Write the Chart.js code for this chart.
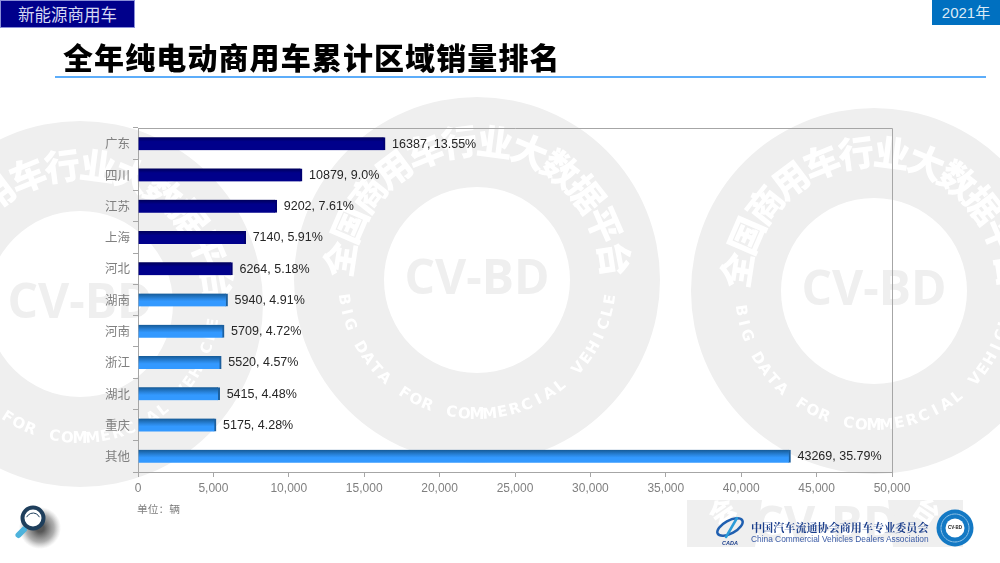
<!DOCTYPE html>
<html>
<head>
<meta charset="utf-8">
<title>全年纯电动商用车累计区域销量排名</title>
<script src="https://cdn.jsdelivr.net/npm/chart.js@4/dist/chart.umd.min.js"></script>
<style>
  html, body { margin: 0; padding: 0; background: #fff; overflow: hidden; }
  #wrap { position: relative; width: 1000px; height: 563px; font-family: "Noto Sans CJK SC", sans-serif; }
  #chart { position: absolute; left: 0; top: 0; }
  .abs { position: absolute; white-space: nowrap; }
  #tag { left: 0; top: 0; width: 135px; height: 28px; line-height: 28px; background: #00008b; color: #d5d8f2; font-size: 16.5px; text-align: center; box-shadow: inset 0 0 0 1px #8a8fd8; }
  #year { left: 932px; top: 0; width: 68px; height: 25px; line-height: 26px; background: #0070c0; color: #dbeaf6; font-family: "Liberation Sans", "Noto Sans CJK SC", sans-serif; font-size: 15px; text-align: center; }
  #title { left: 63px; top: 35px; font-size: 30px; line-height: 42px; font-weight: 900; color: #000; letter-spacing: 1.1px; }
  #rule { left: 55px; top: 76px; width: 931px; height: 2px; background: #5cadfa; }
  #unit { left: 137px; top: 501px; font-size: 10.75px; line-height: 15px; color: #808080; }
  #assoc { left: 751px; top: 520px; font-family: "Noto Serif CJK SC", "Noto Sans CJK SC", serif; font-weight: 700; font-size: 11.1px; line-height: 15px; color: #1c3f8c; }
  #assocEn { left: 751px; top: 534px; font-family: "Liberation Sans", sans-serif; font-size: 8.35px; line-height: 11px; color: #3a5ba5; }
</style>
</head>
<body>
<div id="wrap">
  <canvas id="chart" width="1000" height="563"></canvas>
  <div class="abs" id="tag">新能源商用车</div>
  <div class="abs" id="year">2021年</div>
  <div class="abs" id="title">全年纯电动商用车累计区域销量排名</div>
  <div class="abs" id="rule"></div>
  <div class="abs" id="unit">单位：辆</div>
  <div class="abs" id="assoc">中国汽车流通协会商用车专业委员会</div>
  <div class="abs" id="assocEn">China Commercial Vehicles Dealers Association</div>
</div>
<script>
const categories = ["广东", "四川", "江苏", "上海", "河北", "湖南", "河南", "浙江", "湖北", "重庆", "其他"]
const sales = [16387, 10879, 9202, 7140, 6264, 5940, 5709, 5520, 5415, 5175, 43269]
const shares = ["13.55%", "9.0%", "7.61%", "5.91%", "5.18%", "4.91%", "4.72%", "4.57%", "4.48%", "4.28%", "35.79%"]
const xTicks = [0, 5000, 10000, 15000, 20000, 25000, 30000, 35000, 40000, 45000, 50000]
const topCount = 5

const latin = '"Liberation Sans", Arial, sans-serif'
const cjk = '"Noto Sans CJK SC", sans-serif'
const ringCentres = [[80, 304], [477, 280], [874, 291]]
const grey = '#efefef'

// text bent round a circle, one character at a time
function arcText(ctx, text, cx, cy, r, midAngle, step, inward) {
  const chars = Array.from(text)
  chars.forEach((c, i) => {
    const a = inward ? midAngle + (i - (chars.length - 1) / 2) * step : midAngle - (i - (chars.length - 1) / 2) * step
    ctx.save()
    ctx.translate(cx + r * Math.cos(a), cy + r * Math.sin(a))
    ctx.rotate(inward ? a + Math.PI / 2 : a - Math.PI / 2)
    ctx.fillText(c, 0, 0)
    ctx.restore()
  })
}

const watermark = {
  id: 'watermark',
  beforeDraw(chart) {
    const ctx = chart.ctx
    ctx.save()
    ctx.textAlign = 'center'
    ctx.textBaseline = 'middle'
    ringCentres.forEach(([x, y]) => {
      ctx.fillStyle = grey
      ctx.beginPath()
      ctx.arc(x, y, 183, 0, Math.PI * 2)
      ctx.arc(x, y, 93, 0, Math.PI * 2, true)
      ctx.fill('evenodd')

      ctx.fillStyle = '#ffffff'
      ctx.font = '900 36px ' + cjk
      arcText(ctx, "全国商用车行业大数据平台", x, y, 139, -Math.PI / 2, 0.258, true)
      ctx.font = '700 15px "DejaVu Sans", ' + latin
      arcText(ctx, "BIG DATA FOR COMMERCIAL VEHICLE", x, y, 135, Math.PI / 2, 0.095, false)

      ctx.fillStyle = grey
      ctx.font = '700 48px "Open Sans", ' + latin
      ctx.fillText("CV-BD", x, y)
    })

    // piece of the same watermark left behind the association logo
    ctx.fillStyle = grey
    ctx.fillRect(687, 500, 276, 47)
    ctx.fillStyle = '#ffffff'
    ctx.beginPath()
    ctx.moveTo(762, 500)
    ctx.lineTo(888, 500)
    ctx.lineTo(893, 547)
    ctx.lineTo(755, 547)
    ctx.closePath()
    ctx.fill()
    ctx.save()
    ctx.beginPath()
    ctx.rect(687, 500, 276, 47)
    ctx.clip()
    ctx.fillStyle = grey
    ctx.font = '700 48px "Open Sans", ' + latin
    ctx.fillText("CV-BD", 826, 527)
    ctx.fillStyle = '#ffffff'
    ctx.font = '900 26px ' + cjk
    ctx.translate(722, 511)
    ctx.rotate(-0.6)
    ctx.fillText("会", 0, 0)
    ctx.rotate(0.6)
    ctx.translate(205, 0)
    ctx.rotate(0.6)
    ctx.fillText("台", 0, 0)
    ctx.restore()
    ctx.restore()
  }
}

const frame = {
  id: 'frame',
  beforeDatasetsDraw(chart) {
    const { ctx, chartArea: a } = chart
    ctx.save()
    ctx.strokeStyle = '#a6a6a6'
    ctx.lineWidth = 1
    ctx.beginPath()
    ctx.moveTo(a.left, a.top + 0.5)
    ctx.lineTo(a.right + 0.5, a.top + 0.5)
    ctx.lineTo(a.right + 0.5, a.bottom)
    ctx.stroke()
    ctx.restore()
  }
}

const barLabels = {
  id: 'barLabels',
  afterDatasetsDraw(chart) {
    const ctx = chart.ctx
    ctx.save()
    ctx.font = '12.5px ' + latin
    ctx.fillStyle = '#262626'
    ctx.textAlign = 'left'
    ctx.textBaseline = 'middle'
    chart.getDatasetMeta(0).data.forEach((bar, i) => {
      ctx.fillText(sales[i] + ', ' + shares[i], bar.x + 7, bar.y + 0.5)
    })
    ctx.restore()
  }
}

// magnifier and the two logos in the bottom corners
const badges = {
  id: 'badges',
  afterDraw(chart) {
    const ctx = chart.ctx
    ctx.save()
    // soft shadow first, blob offset to the lower right
    const s = ctx.createRadialGradient(40, 528, 4, 40, 528, 21)
    s.addColorStop(0, 'rgba(30,30,30,0.75)')
    s.addColorStop(0.6, 'rgba(60,60,60,0.4)')
    s.addColorStop(1, 'rgba(120,120,120,0)')
    ctx.fillStyle = s
    ctx.fillRect(15, 505, 50, 50)

    ctx.lineCap = 'round'
    ctx.strokeStyle = '#4eb3dc'
    ctx.lineWidth = 6
    ctx.beginPath()
    ctx.moveTo(18.5, 535)
    ctx.lineTo(24, 529.5)
    ctx.stroke()
    ctx.strokeStyle = '#1f3f5c'
    ctx.lineWidth = 4
    ctx.fillStyle = '#ffffff'
    ctx.beginPath()
    ctx.arc(33, 518, 10.5, 0, Math.PI * 2)
    ctx.fill()
    ctx.stroke()
    ctx.lineWidth = 1
    ctx.beginPath()
    ctx.arc(33, 520, 7, Math.PI * 1.15, Math.PI * 1.85)
    ctx.stroke()

    // CV-BD badge
    ctx.fillStyle = '#1479c4'
    ctx.beginPath()
    ctx.arc(955, 528, 18.5, 0, Math.PI * 2)
    ctx.fill()
    ctx.strokeStyle = '#9cc9ea'
    ctx.lineWidth = 1
    ctx.setLineDash([1.5, 1])
    ctx.beginPath()
    ctx.arc(955, 528, 14, 0, Math.PI * 2)
    ctx.stroke()
    ctx.setLineDash([])
    ctx.fillStyle = '#ffffff'
    ctx.beginPath()
    ctx.arc(955, 528, 9.5, 0, Math.PI * 2)
    ctx.fill()
    ctx.fillStyle = '#222222'
    ctx.font = '700 4.5px ' + latin
    ctx.textAlign = 'center'
    ctx.textBaseline = 'middle'
    ctx.fillText("CV-BD", 955, 528)

    // association emblem
    ctx.strokeStyle = '#1f5fb0'
    ctx.lineWidth = 2.5
    ctx.beginPath()
    ctx.ellipse(730, 527, 14, 6.5, -0.5, 0, Math.PI * 2)
    ctx.stroke()
    ctx.strokeStyle = '#2b9bd8'
    ctx.beginPath()
    ctx.moveTo(737, 518)
    ctx.lineTo(726, 537)
    ctx.stroke()
    ctx.fillStyle = '#1c3f8c'
    ctx.font = 'italic 700 5.5px ' + latin
    ctx.fillText("CADA", 730, 543)
    ctx.restore()
  }
}

function barFill(context) {
  const chart = context.chart
  const yScale = chart.scales.y
  if (!yScale || context.dataIndex === undefined) return '#00008b'
  const y = yScale.getPixelForValue(context.dataIndex)
  if (!Number.isFinite(y)) return '#00008b'
  const g = chart.ctx.createLinearGradient(0, y - 6.5, 0, y + 6.5)
  if (context.dataIndex < topCount) {
    g.addColorStop(0, '#000058')
    g.addColorStop(0.35, '#00008b')
    g.addColorStop(1, '#00008b')
  } else {
    g.addColorStop(0, '#155a96')
    g.addColorStop(0.4, '#2a86e0')
    g.addColorStop(0.6, '#3399ff')
    g.addColorStop(1, '#3399ff')
  }
  return g
}

new Chart(document.getElementById('chart').getContext('2d'), {
  type: 'bar',
  data: {
    labels: categories,
    datasets: [{
      data: sales,
      backgroundColor: barFill,
      borderColor: ctx => ctx.dataIndex < topCount ? '#000070' : '#1c5f9e',
      borderWidth: { top: 0, bottom: 0, left: 0, right: 2 },
      borderSkipped: false,
      barThickness: 13,
    }]
  },
  options: {
    indexAxis: 'y',
    responsive: false,
    animation: false,
    layout: { padding: { left: 98, top: 128, right: 108, bottom: 61 } },
    plugins: { legend: { display: false }, title: { display: false }, tooltip: { enabled: false } },
    scales: {
      x: {
        min: 0,
        max: 50000,
        afterBuildTicks(scale) { scale.ticks = xTicks.map(value => ({ value })) },
        afterFit(scale) { scale.height = 30 },
        grid: { drawOnChartArea: false, color: '#a6a6a6', tickLength: 5 },
        border: { color: '#a6a6a6' },
        ticks: { color: '#808080', font: { family: latin, size: 12 }, padding: 4, maxRotation: 0,
          callback: v => v.toLocaleString('en-US') },
      },
      y: {
        afterFit(scale) { scale.width = 40 },
        grid: { drawOnChartArea: false, offset: true, color: '#a6a6a6', tickLength: 5 },
        border: { color: '#a6a6a6' },
        ticks: { color: '#808080', font: { family: cjk, size: 12.5 }, padding: 3 },
      },
    },
  },
  plugins: [watermark, frame, barLabels, badges],
})
</script>
</body>
</html>
